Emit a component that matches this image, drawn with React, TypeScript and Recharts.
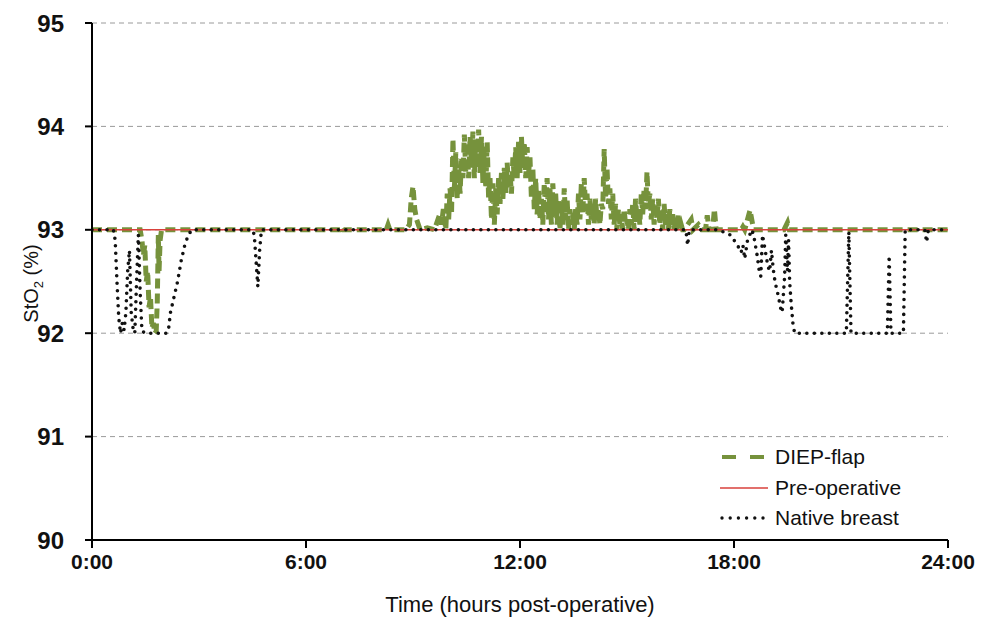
import { LineChart, Line, XAxis, YAxis, CartesianGrid, Legend } from 'recharts'

// DIEP-flap StO2 readings (hours post-op, %)
const flapHours = [
  0, 1.35, 1.4, 1.44, 1.48, 1.52, 1.56, 1.6, 1.64, 1.68, 1.72, 1.76, 1.8, 1.83, 1.86, 1.88, 1.91, 1.95,
  6.95, 7.0, 7.05, 8.25, 8.3, 8.35, 8.8, 8.9, 8.95, 9.0, 9.05, 9.1, 9.2, 9.4, 9.6,
  9.75, 9.8, 9.85,
  9.92, 9.96, 10.0, 10.04, 10.08, 10.12, 10.16, 10.2, 10.24, 10.28,
  10.32, 10.36, 10.4, 10.44, 10.48, 10.52, 10.56, 10.6, 10.64, 10.68,
  10.72, 10.76, 10.8, 10.84, 10.88, 10.92, 10.96, 11.0, 11.04, 11.08,
  11.12, 11.16, 11.2, 11.24, 11.28, 11.32, 11.36, 11.4, 11.44, 11.48,
  11.52, 11.56, 11.6, 11.64, 11.68, 11.72, 11.76, 11.8, 11.84, 11.88,
  11.92, 11.96, 12.0, 12.04, 12.08, 12.12, 12.16, 12.2, 12.24, 12.28,
  12.32, 12.36, 12.4, 12.44, 12.48, 12.52, 12.56, 12.6, 12.64, 12.68,
  12.72, 12.76, 12.8, 12.84, 12.88, 12.92, 12.96, 13.0, 13.04, 13.08,
  13.12, 13.16, 13.2, 13.24, 13.28, 13.32, 13.36, 13.4, 13.44, 13.48,
  13.52, 13.56, 13.6, 13.64, 13.68, 13.72, 13.76, 13.8, 13.84, 13.88,
  13.92, 13.96, 14.0, 14.04, 14.08, 14.12, 14.16, 14.2, 14.24, 14.28,
  14.32, 14.36, 14.4, 14.44, 14.48, 14.52, 14.56, 14.6, 14.64, 14.68,
  14.72, 14.76, 14.8, 14.84, 14.88, 14.92, 14.96, 15.0, 15.04, 15.08,
  15.12, 15.16, 15.2, 15.24, 15.28, 15.32, 15.36, 15.4, 15.44, 15.48,
  15.52, 15.56, 15.6, 15.64, 15.68, 15.72, 15.76, 15.8, 15.84, 15.88,
  15.92, 15.96, 16.0, 16.04, 16.08, 16.12, 16.16, 16.2, 16.24, 16.28,
  16.32, 16.36, 16.4, 16.44, 16.48, 16.52, 16.56, 16.6,
  16.7, 16.8, 16.85, 17.0, 17.1, 17.2, 17.25, 17.3, 17.4, 17.45, 17.5,
  18.2, 18.25, 18.3, 18.45, 18.55, 18.65, 19.4, 19.5, 19.55, 24,
]
const flapStO2 = [
  93, 93, 92.9, 92.75, 92.85, 92.5, 92.6, 92.25, 92.35, 92.05, 92.1, 92.0, 92.02, 92.3, 92.95, 92.6, 92.9, 93,
  93, 93.03, 93, 93, 93.05, 93, 93.0, 93.05, 93.3, 93.42, 93.2, 93.1, 93.0, 93.02, 93.0,
  93.15, 93.05, 93.2,
  93.0, 93.35, 93.1, 93.4, 93.15, 93.88, 93.4, 93.75, 93.3, 93.6,
  93.35, 93.7, 93.5, 93.92, 93.55, 93.85, 93.5, 93.9, 93.6, 93.95,
  93.5, 93.85, 93.6, 93.97, 93.55, 93.9, 93.45, 93.8, 93.4, 93.85,
  93.3, 93.5, 93.1, 93.45, 93.05, 93.4, 93.15, 93.5, 93.25, 93.55,
  93.3, 93.6, 93.35, 93.65, 93.4, 93.55, 93.35, 93.7, 93.5, 93.8,
  93.5, 93.85, 93.55, 93.9, 93.6, 93.85, 93.5, 93.8, 93.55, 93.7,
  93.3, 93.6, 93.2, 93.5, 93.15, 93.4, 93.1, 93.3, 93.05, 93.45,
  93.15, 93.5, 93.1, 93.4, 93.05, 93.45, 93.2, 93.35, 93.05, 93.3,
  93.0, 93.25, 93.05, 93.4, 93.1, 93.3, 93.0, 93.2, 93.05, 93.15,
  93.0, 93.2, 93.05, 93.35, 93.1, 93.45, 93.15, 93.5, 93.2, 93.35,
  93.05, 93.3, 93.1, 93.25, 93.05, 93.3, 93.1, 93.2, 93.05, 93.25,
  93.2, 93.78, 93.3, 93.6, 93.25, 93.4, 93.1, 93.35, 93.05, 93.25,
  93.0, 93.2, 93.05, 93.15, 93.0, 93.2, 93.05, 93.1, 93.0, 93.2,
  93.05, 93.25, 93.0, 93.3, 93.1, 93.2, 93.05, 93.35, 93.15, 93.4,
  93.2, 93.56, 93.25, 93.35, 93.1, 93.3, 93.05, 93.25, 93.1, 93.3,
  93.05, 93.2, 93.0, 93.25, 93.05, 93.15, 93.0, 93.2, 93.05, 93.15,
  93.0, 93.1, 93.0, 93.15, 93.0, 93.05, 93.0, 93.0,
  93.05, 93.1, 93.0, 93.05, 93.0, 93.0, 93.14, 93.0, 93.0, 93.2, 93.0,
  93.0, 93.03, 93.0, 93.19, 93.0, 93.0, 93.0, 93.07, 93.0, 93,
]

// Native breast StO2 readings
const nativeHours = [
  0, 0.6, 0.65, 0.7, 0.75, 0.8, 0.85, 0.9, 0.95, 1.0, 1.05, 1.1, 1.15, 1.2, 1.25,
  1.3, 1.35, 1.4, 1.5, 2.1, 2.15, 2.2, 2.3, 2.4, 2.5, 2.6, 2.7, 2.8, 4.5, 4.55,
  4.6, 4.65, 4.7, 4.75, 16.65, 16.7, 16.75, 17.5, 17.7, 17.9, 18.0, 18.1, 18.2,
  18.25, 18.3, 18.38, 18.5, 18.55, 18.6, 18.65, 18.7, 18.75, 18.8, 18.85, 18.9,
  18.95, 19.0, 19.05, 19.1, 19.15, 19.2, 19.25, 19.3, 19.35, 19.42, 19.45, 19.5,
  19.53, 19.56, 19.6, 19.65, 19.7, 21.15, 21.22, 21.28, 22.3, 22.35, 22.4, 22.75,
  22.8, 23.35, 23.4, 23.45, 24,
]
const nativeStO2 = [
  93, 93, 92.9, 92.5, 92.15, 92.0, 92.1, 92.03, 92.2, 92.6, 92.8, 92.2, 92.05, 92.0, 92.5,
  92.95, 92.4, 92.02, 92.0, 92.0, 92.05, 92.2, 92.35, 92.5, 92.7, 92.85, 92.95, 93, 93, 92.95,
  92.7, 92.45, 92.8, 93, 93, 92.85, 93, 93, 92.98, 92.95, 92.9, 92.85, 92.78,
  92.85, 92.72, 92.9, 93, 92.95, 92.85, 92.75, 92.62, 92.55, 92.95, 92.85, 92.75,
  92.65, 92.6, 92.8, 92.62, 92.5, 92.42, 92.35, 92.25, 92.2, 92.55, 92.95, 92.6,
  92.9, 92.5, 92.3, 92.1, 92.0, 92.0, 92.98, 92.0, 92.0, 92.75, 92.0, 92.0,
  93, 93, 92.88, 93, 93,
]

// Pre-operative baseline
const preOpHours = [0, 24]
const preOpStO2 = [93, 93]

const hourTicks = [0, 6, 12, 18, 24]
const stO2Ticks = [90, 91, 92, 93, 94, 95]
const legendOrder = ['DIEP-flap', 'Pre-operative', 'Native breast']

const FLAP_COLOR = '#76923c'
const PREOP_COLOR = '#d9413b'
const NATIVE_COLOR = '#111'
const FONT = '"Liberation Sans", Arial, sans-serif'

const toPoints = (hours: number[], values: number[]) =>
  hours.map((t, i) => ({ t, v: values[i] }))

const flapData = toPoints(flapHours, flapStO2)
const nativeData = toPoints(nativeHours, nativeStO2)
const preOpData = toPoints(preOpHours, preOpStO2)

function LegendSymbol({ name }: { name: string }) {
  if (name === 'DIEP-flap')
    return <line x1={2} y1={6} x2={48} y2={6} stroke={FLAP_COLOR} strokeWidth={4} strokeDasharray="14 14" />
  if (name === 'Pre-operative')
    return <line x1={0} y1={6} x2={48} y2={6} stroke={PREOP_COLOR} strokeWidth={1.5} />
  return (
    <line x1={2} y1={6} x2={46} y2={6} stroke={NATIVE_COLOR} strokeWidth={3.4}
      strokeLinecap="round" strokeDasharray="0 8.2" />
  )
}

function LegendContent({ payload }: any) {
  const items = [...(payload || [])].sort(
    (a: any, b: any) => legendOrder.indexOf(a.value) - legendOrder.indexOf(b.value),
  )
  return (
    <div style={{ fontFamily: FONT, fontSize: 21, color: '#111' }}>
      {items.map((p: any) => (
        <div key={p.value} style={{ display: 'flex', alignItems: 'center', height: 30.5 }}>
          <svg width={50} height={12} style={{ marginRight: 5 }}>
            <LegendSymbol name={p.value} />
          </svg>
          <span>{p.value}</span>
        </div>
      ))}
    </div>
  )
}

function YTitle({ viewBox }: any) {
  const cy = viewBox.y + viewBox.height / 2 + 2
  return (
    <text x={0} y={0} transform={`translate(38, ${cy}) rotate(-90)`} textAnchor="middle"
      fontFamily={FONT} fontSize={20} fill="#111">
      StO
      <tspan fontSize={13} dy={5}>2</tspan>
      <tspan dy={-5}> (%)</tspan>
    </text>
  )
}

function XTitle({ viewBox }: any) {
  return (
    <text x={viewBox.x + viewBox.width / 2} y={612} textAnchor="middle"
      fontFamily={FONT} fontSize={22} fill="#111">
      Time (hours post-operative)
    </text>
  )
}

export default function App() {
  return (
    <div style={{ position: 'absolute', left: 0, top: 0, width: 989, height: 619, background: '#fff' }}>
      <LineChart width={989} height={619} margin={{ top: 23, right: 41, bottom: 0, left: 0 }}>
        <CartesianGrid vertical={false} stroke="#9a9a9a" strokeDasharray="5 4" />
        <XAxis
          type="number"
          dataKey="t"
          domain={[0, 24]}
          ticks={hourTicks}
          tickFormatter={(h: number) => `${h}:00`}
          height={79}
          stroke="#000"
          strokeWidth={2}
          tickSize={8}
          tickMargin={6}
          tick={{ fill: '#111', fontFamily: FONT, fontSize: 21, fontWeight: 'bold' }}
          allowDataOverflow
          label={{ content: XTitle }}
        />
        <YAxis
          type="number"
          domain={[90, 95]}
          ticks={stO2Ticks}
          width={92}
          stroke="#000"
          strokeWidth={2}
          tickSize={7}
          tickMargin={21}
          tick={{ fill: '#111', fontFamily: FONT, fontSize: 24, fontWeight: 'bold' }}
          label={{ content: YTitle }}
        />
        <Legend
          layout="vertical"
          align="center"
          verticalAlign="middle"
          wrapperStyle={{ left: 720, top: 442, width: 230 }}
          content={LegendContent}
        />
        <Line data={flapData} dataKey="v" name="DIEP-flap" stroke={FLAP_COLOR} strokeWidth={5}
          strokeDasharray="10 5" dot={false} isAnimationActive={false} />
        <Line data={preOpData} dataKey="v" name="Pre-operative" stroke={PREOP_COLOR} strokeWidth={1.5}
          dot={false} isAnimationActive={false} />
        <Line data={nativeData} dataKey="v" name="Native breast" stroke={NATIVE_COLOR} strokeWidth={3.6}
          strokeLinecap="round" strokeDasharray="0 7.5" dot={false} isAnimationActive={false} />
      </LineChart>
    </div>
  )
}
